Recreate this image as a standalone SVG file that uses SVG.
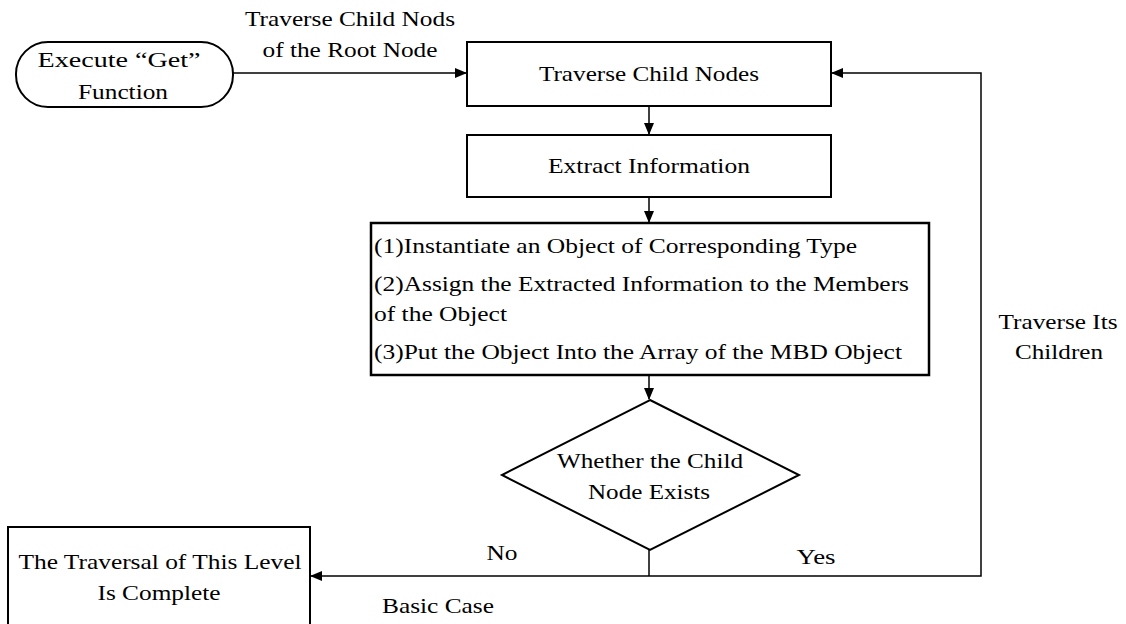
<svg xmlns="http://www.w3.org/2000/svg" width="1126" height="624" viewBox="0 0 1126 624" font-family="'Liberation Serif', 'Times New Roman', serif">
<style>
.n{fill:#fff;stroke:#000;stroke-width:2}
text{font-family:'Liberation Serif','Times New Roman',serif;font-size:22px;fill:#000}
.c{text-anchor:middle}
.e{fill:none;stroke:#000;stroke-width:1.5}
</style>
<defs>
<marker id="ah" markerWidth="12" markerHeight="10" refX="11" refY="5" orient="auto" markerUnits="userSpaceOnUse">
<path d="M0,0 L12,5 L0,10 Z" fill="#000"/>
</marker>
</defs>
<rect width="1126" height="624" fill="#fff"/>
<g id="connectors">
<path class="e" d="M233,73 H466" marker-end="url(#ah)"/>
<path class="e" d="M649,106 V134" marker-end="url(#ah)"/>
<path class="e" d="M649,197 V222" marker-end="url(#ah)"/>
<path class="e" d="M649,375 V399" marker-end="url(#ah)"/>
<path class="e" d="M649,550 V576"/>
<path class="e" d="M649,576 H311" marker-end="url(#ah)"/>
<path class="e" d="M649,576 H981 V73 H832" marker-end="url(#ah)"/>
<text class="c" x="350" y="26" textLength="210" lengthAdjust="spacingAndGlyphs">Traverse Child Nods</text>
<text class="c" x="350" y="57" textLength="175" lengthAdjust="spacingAndGlyphs">of the Root Node</text>
<text class="c" x="1058" y="329" textLength="119" lengthAdjust="spacingAndGlyphs">Traverse Its</text>
<text class="c" x="1059" y="359" textLength="88" lengthAdjust="spacingAndGlyphs">Children</text>
<text class="c" x="502" y="560" textLength="31" lengthAdjust="spacingAndGlyphs">No</text>
<text class="c" x="816" y="564" textLength="39" lengthAdjust="spacingAndGlyphs">Yes</text>
<text class="c" x="438" y="613" textLength="112" lengthAdjust="spacingAndGlyphs">Basic Case</text>
</g>
<g id="start">
<rect class="n" x="16" y="42" width="217" height="65" rx="32" ry="32"/>
<text class="c" x="119" y="67" textLength="163" lengthAdjust="spacingAndGlyphs">Execute “Get”</text>
<text class="c" x="123" y="99" textLength="90" lengthAdjust="spacingAndGlyphs">Function</text>
</g>
<g id="traverse">
<rect class="n" x="467" y="42" width="364" height="64"/>
<text class="c" x="649" y="81" textLength="220" lengthAdjust="spacingAndGlyphs">Traverse Child Nodes</text>
</g>
<g id="extract">
<rect class="n" x="467" y="135" width="364" height="62"/>
<text class="c" x="649" y="173" textLength="202" lengthAdjust="spacingAndGlyphs">Extract Information</text>
</g>
<g id="process">
<rect class="n" x="371" y="223" width="558" height="152" style="stroke-width:2.5"/>
<text x="374" y="253" textLength="483" lengthAdjust="spacingAndGlyphs">(1)Instantiate an Object of Corresponding  Type</text>
<text x="374" y="291" textLength="535" lengthAdjust="spacingAndGlyphs">(2)Assign the Extracted Information to the Members</text>
<text x="374" y="321" textLength="133" lengthAdjust="spacingAndGlyphs">of the Object</text>
<text x="374" y="359" textLength="528" lengthAdjust="spacingAndGlyphs">(3)Put the Object Into the Array of the MBD Object</text>
</g>
<g id="decision">
<polygon class="n" points="650,400 799,475 650,550 502,475"/>
<text class="c" x="650" y="468" textLength="186" lengthAdjust="spacingAndGlyphs">Whether the Child</text>
<text class="c" x="649" y="499" textLength="122" lengthAdjust="spacingAndGlyphs">Node Exists</text>
</g>
<g id="end">
<rect class="n" x="8" y="527" width="302" height="110"/>
<text class="c" x="160" y="569" textLength="283" lengthAdjust="spacingAndGlyphs">The Traversal of This Level</text>
<text class="c" x="159" y="600" textLength="123" lengthAdjust="spacingAndGlyphs">Is Complete</text>
</g>
</svg>
